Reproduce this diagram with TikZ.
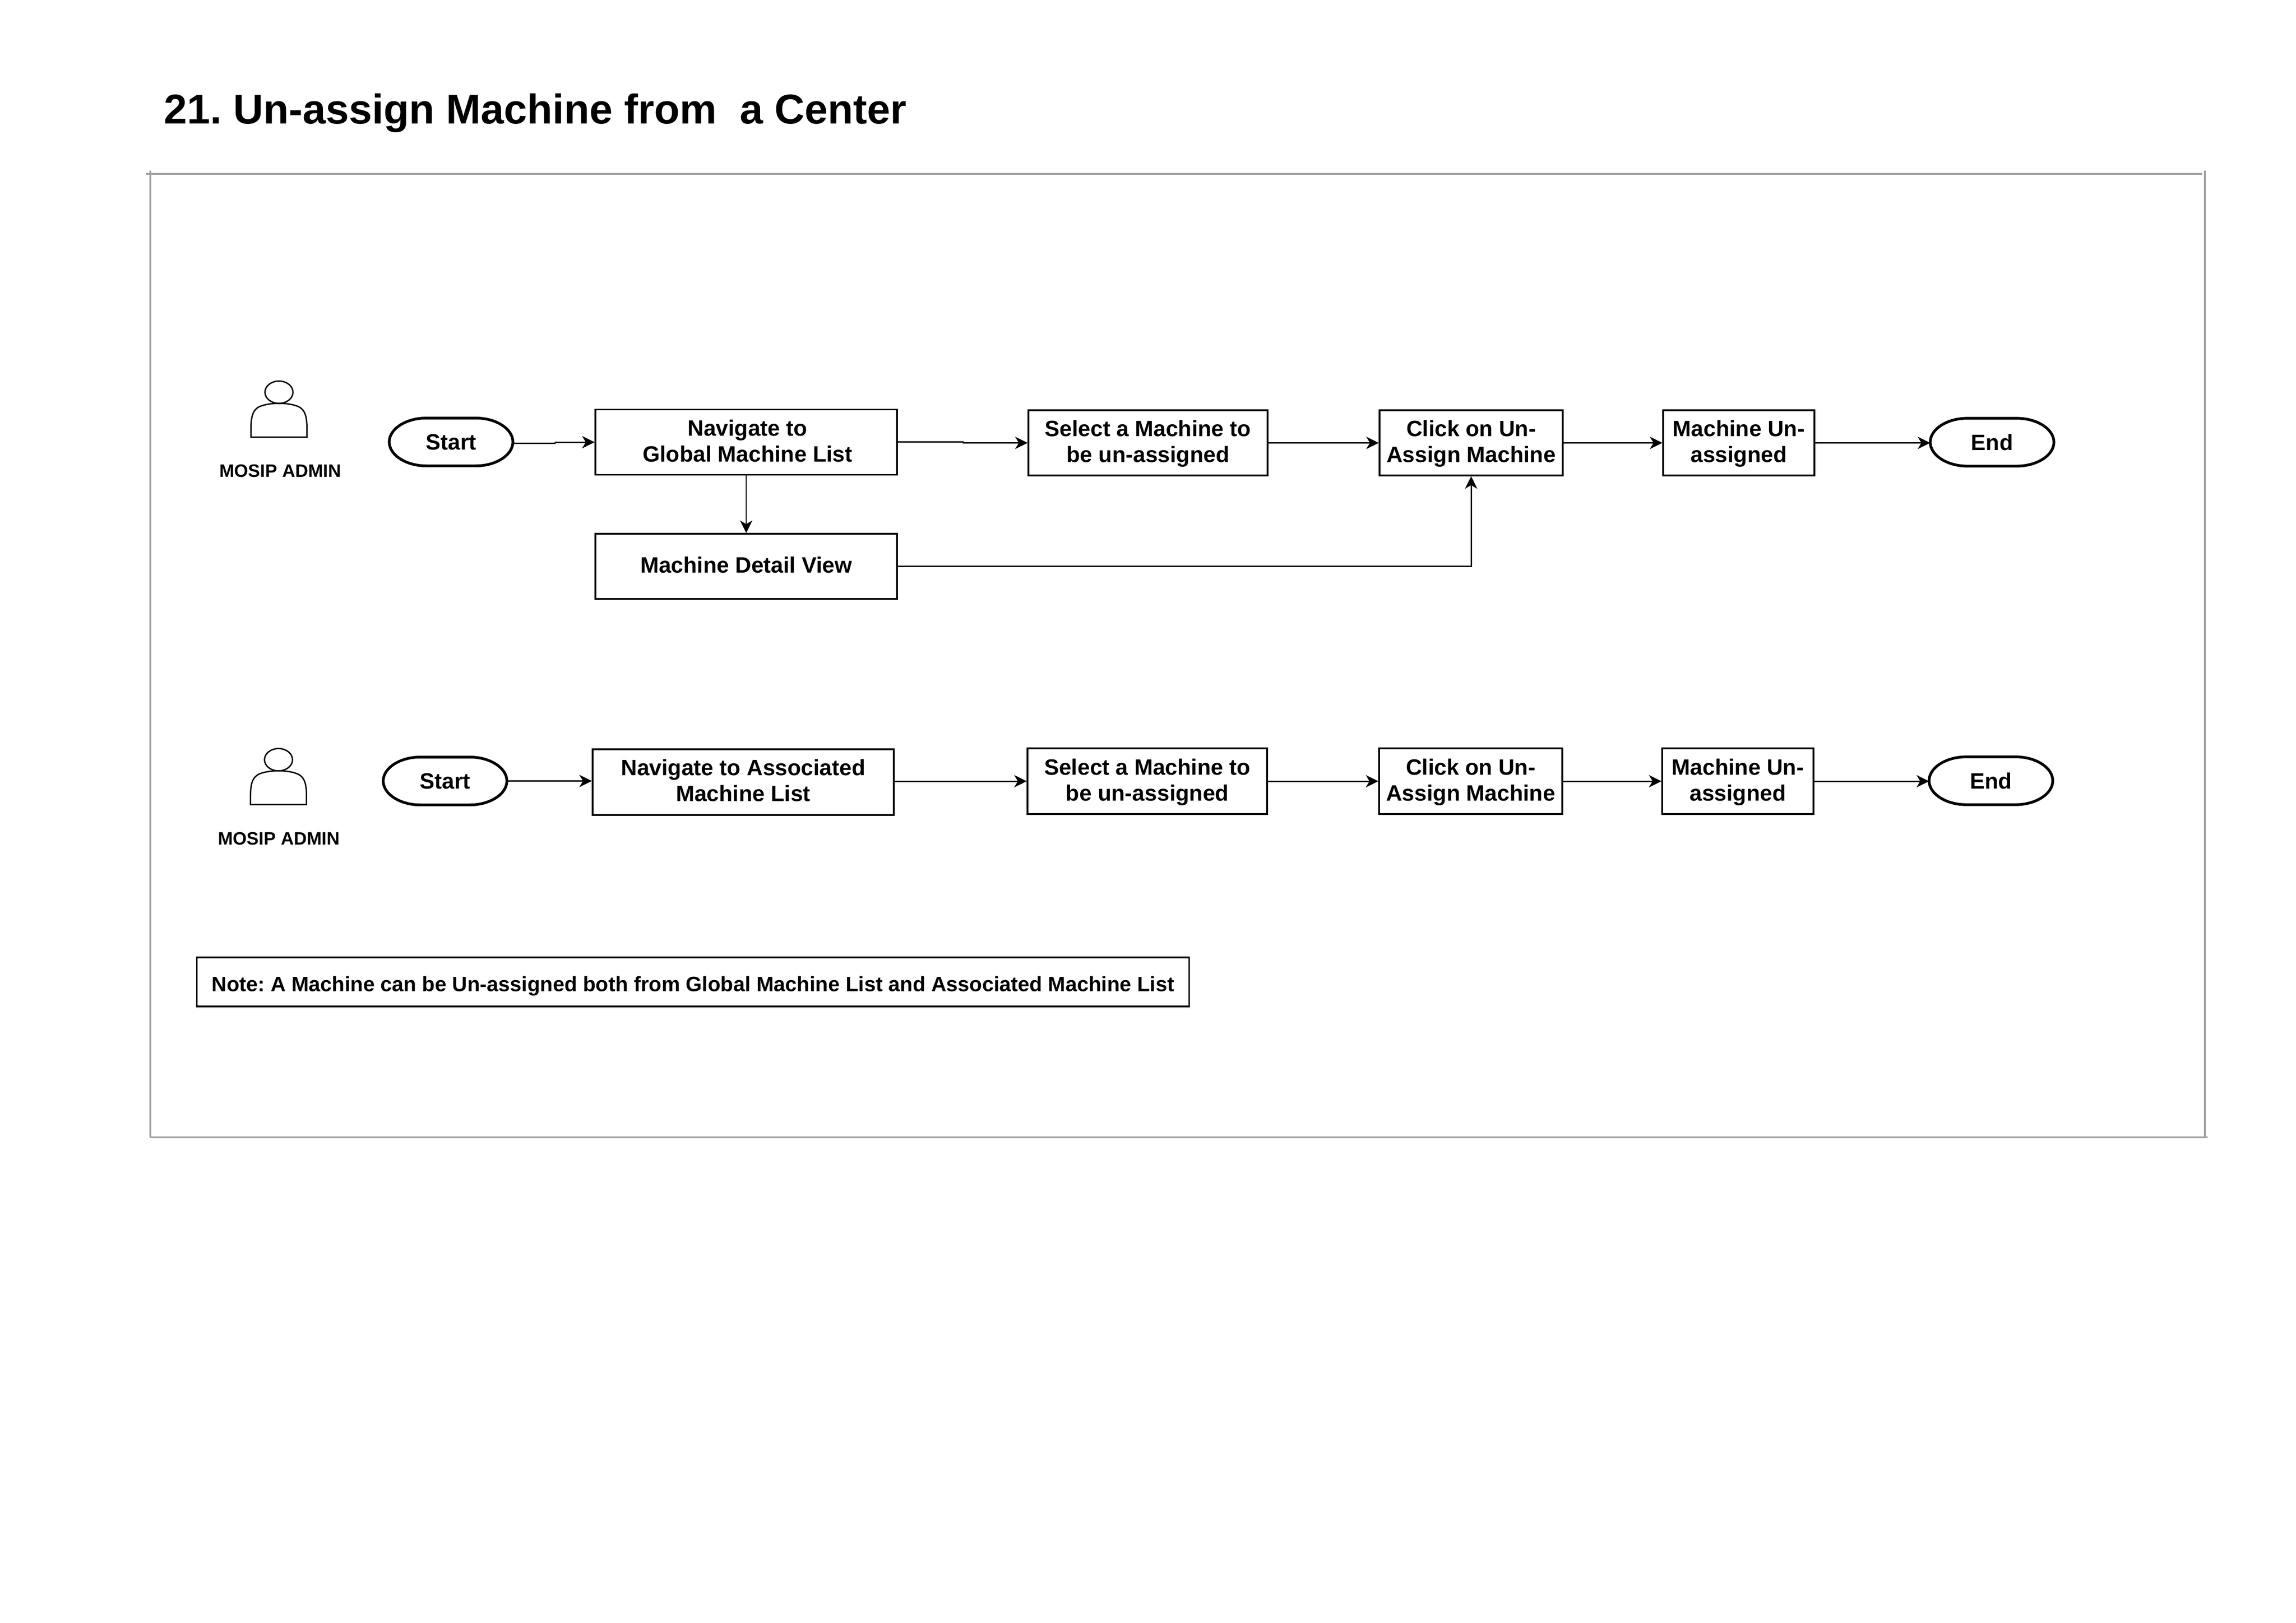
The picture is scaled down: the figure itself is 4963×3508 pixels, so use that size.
\documentclass[tikz,border=0pt]{standalone}
\usepackage{fontspec}
\setmainfont{Liberation Sans}
\usetikzlibrary{arrows.meta,calc}
\frenchspacing
\tikzset{
  sz/.style 2 args={minimum width=#1*0.17pt,minimum height=#2*0.17pt},
  stepbox/.style={draw=black,line width=0.55pt,inner sep=0pt,align=center,
    font=\fontsize{8.16}{9.52}\selectfont\bfseries},
  term/.style={inner sep=0pt,align=center,font=\fontsize{8.16}{9.52}\selectfont\bfseries},
  termline/.style={draw=black,line width=1pt},
  conn/.style={draw=black,line width=0.5pt,line join=miter,
    -{Stealth[length=4.6pt,width=4.5pt,inset=1.35pt]}},
  frameln/.style={draw=framegray,line width=0.58pt},
  actorlabel/.style={inner sep=0pt,anchor=base,font=\fontsize{6.6}{8}\selectfont\bfseries},
  actor/.pic={
    \draw[line width=0.5pt] (0,-24) ellipse[x radius=5.15pt,y radius=4.1pt];
    \draw[line width=0.5pt,line join=miter]
      (-60.5,73) -- (-60.5,55) .. controls (-60.5,30) and (-57,14) .. (-42,7)
      .. controls (-30,2) and (-15,0) .. (0,0)
      .. controls (15,0) and (30,2) .. (42,7)
      .. controls (57,14) and (60.5,30) .. (60.5,55) -- (60.5,73) -- cycle;
  }
}
\definecolor{framegray}{HTML}{A0A0A0}
\newcommand{\twolines}[3]{\rule{0pt}{\dimexpr#1pt+1.5pt\relax}#2\\#3\rule[-1.5pt]{0pt}{1.5pt}}
\newcommand{\termshape}[1]{%
  \draw[termline] ([xshift=13.6pt]#1.north west) -- ([xshift=-13.6pt]#1.north east)
    .. controls ([xshift=-6.09pt]#1.north east) and ([yshift=4.75pt]#1.east) .. (#1.east)
    .. controls ([yshift=-4.75pt]#1.east) and ([xshift=-6.09pt]#1.south east) .. ([xshift=-13.6pt]#1.south east)
    -- ([xshift=13.6pt]#1.south west)
    .. controls ([xshift=6.09pt]#1.south west) and ([yshift=-4.75pt]#1.west) .. (#1.west)
    .. controls ([yshift=4.75pt]#1.west) and ([xshift=6.09pt]#1.north west) .. ([xshift=13.6pt]#1.north west) -- cycle;}
\begin{document}
\begin{tikzpicture}[x=0.17pt,y=-0.17pt]
\useasboundingbox (0,0) rectangle (4963,3508);
% title
\node[inner sep=0pt,anchor=base west,font=\fontsize{15.3}{18}\selectfont\bfseries] (title) at (353,267) {21. Un-assign Machine from \ a Center};
% frame
\draw[frameln] (316,376) -- (4760,376);
\draw[frameln] (325,369) -- (325,2459);
\draw[frameln] (325,2459) -- (4772,2459);
\draw[frameln] (4766,369) -- (4766,2459);
% row 1
\pic at (603,872) {actor};
\node[actorlabel] (a1) at (606,1031) {MOSIP ADMIN};
\node[term,sz={265}{101}] (s1) at (975,955.5) {Start};
\termshape{s1}
\node[stepbox,sz={652}{141.5}] (n1) at (1613,956) {\twolines{4.76}{\kern1pt Navigate to}{\kern1pt Global Machine List}};
\node[stepbox,sz={652}{141},text height=6.2pt,text depth=1.6pt] (d1) at (1613,1224.5) {Machine Detail View};
\node[stepbox,sz={517}{141}] (sel1) at (2481.5,957.5) {\twolines{4.92}{Select a Machine to}{be un-assigned}};
\node[stepbox,sz={396}{141}] (cl1) at (3180,957.5) {\twolines{4.92}{Click on Un-}{Assign Machine}};
\node[stepbox,sz={327}{141}] (mu1) at (3758.5,957.5) {\twolines{4.92}{Machine Un-}{assigned}};
\node[term,sz={265}{101}] (e1) at (4306,956) {End};
\termshape{e1}
\coordinate (j1) at (1200,958);
\coordinate (j2) at (2082,955);
\draw[conn] (s1.east |- j1) -- (j1) -- (j1 |- n1.west) -- (n1.west);
\draw[conn] (n1.east |- j2) -- (j2) -- (j2 |- sel1.west) -- (sel1.west);
\draw[conn] (n1.south -| d1.north) -- (d1.north);
\draw[conn] (d1.east) -| (cl1.south);
\draw[conn] (sel1.east) -- (cl1.west);
\draw[conn] (cl1.east) -- (mu1.west);
\draw[conn] (mu1.east) -- (mu1.east -| e1.west);
% row 2
\pic at (602,1666.5) {actor};
\node[actorlabel] (a2) at (603,1826) {MOSIP ADMIN};
\node[term,sz={265}{101}] (s2) at (962,1688.5) {Start};
\termshape{s2}
\node[stepbox,sz={651}{142}] (n2) at (1606.5,1691) {\twolines{4.42}{Navigate to Associated}{Machine List}};
\node[stepbox,sz={518}{142}] (sel2) at (2480,1689) {\twolines{5.1}{Select a Machine to}{be un-assigned}};
\node[stepbox,sz={396}{142}] (cl2) at (3179,1689) {\twolines{5.1}{Click on Un-}{Assign Machine}};
\node[stepbox,sz={327}{142}] (mu2) at (3756.5,1689) {\twolines{5.1}{Machine Un-}{assigned}};
\node[term,sz={265}{101}] (e2) at (4303.5,1688) {End};
\termshape{e2}
\draw[conn] (s2.east) -- (s2.east -| n2.west);
\draw[conn] (n2.east |- sel2.west) -- (sel2.west);
\draw[conn] (sel2.east) -- (cl2.west);
\draw[conn] (cl2.east) -- (mu2.west);
\draw[conn] (mu2.east) -- (mu2.east -| e2.west);
% note
\node[stepbox,sz={2144.5}{106},text height=8.5pt,text depth=1.7pt,font=\fontsize{7.65}{9}\selectfont\bfseries] (note) at (1498,2123) {Note: A Machine can be Un-assigned both from Global Machine List and Associated Machine List};
\end{tikzpicture}
\end{document}
